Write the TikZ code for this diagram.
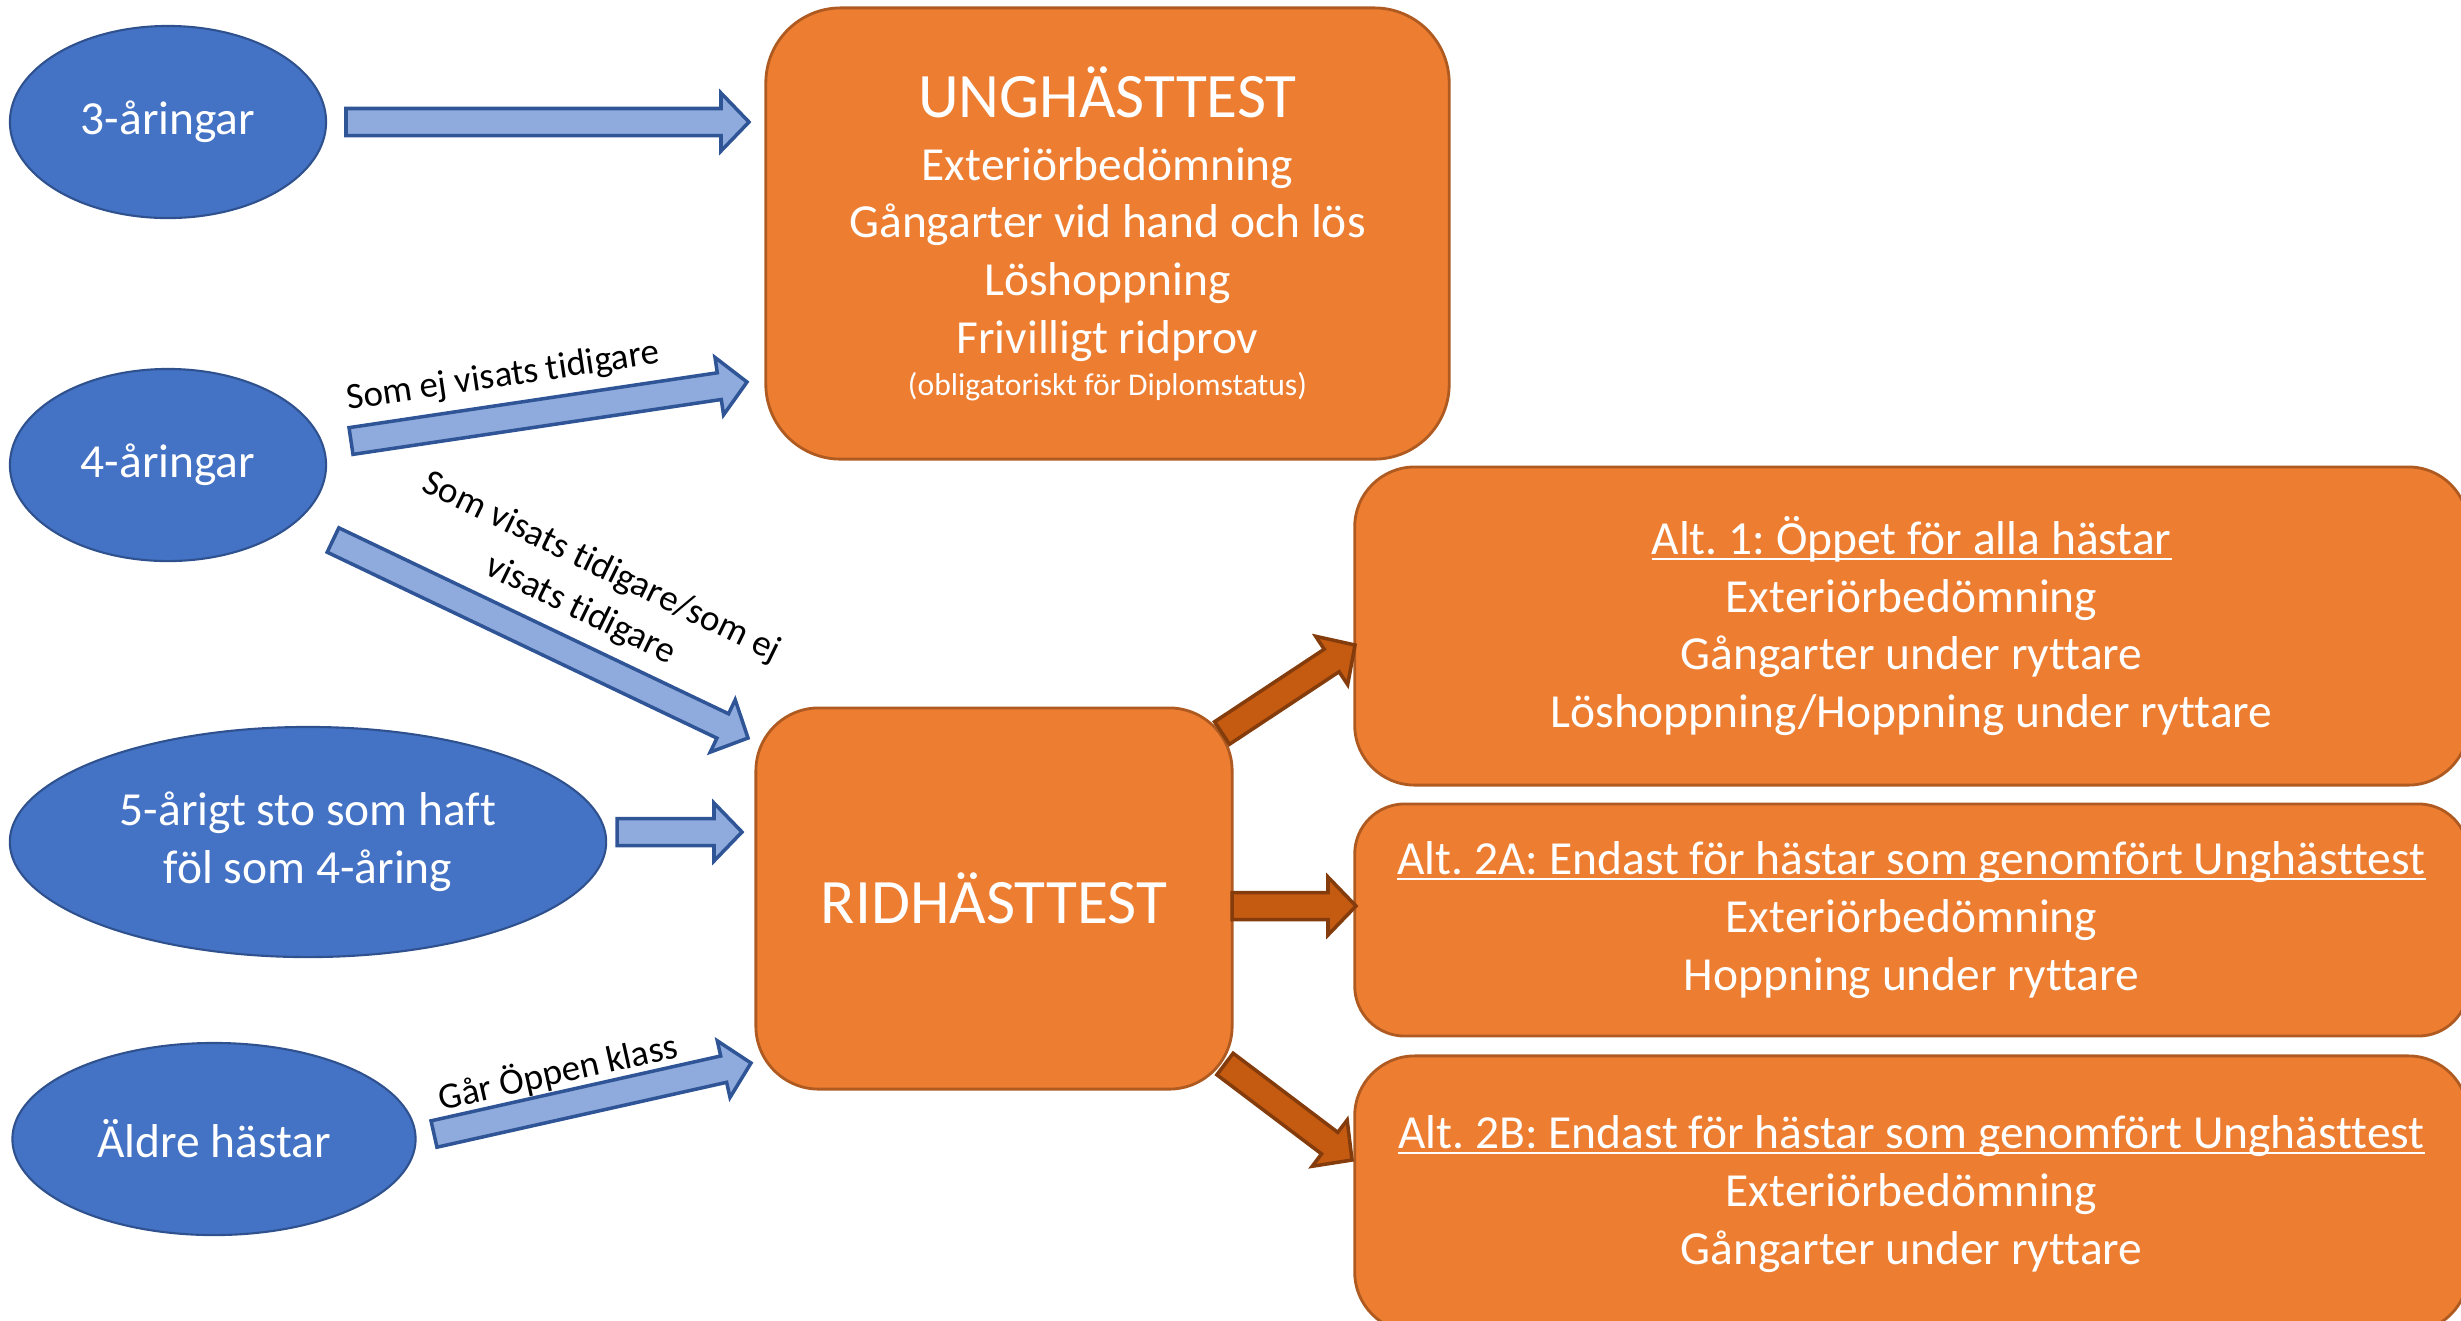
\documentclass[tikz,border=0pt]{standalone}
\usepackage{fontspec}
\setmainfont{Carlito}[Ligatures={NoCommon}]
\frenchspacing
\usetikzlibrary{shapes.geometric,calc,positioning}

\definecolor{ovalblue}{HTML}{4472C4}
\definecolor{ovalline}{HTML}{2F528F}
\definecolor{boxorange}{HTML}{ED7D31}
\definecolor{boxline}{HTML}{AE5A21}
\definecolor{arrowblue}{HTML}{8FAADC}
\definecolor{arrowblueline}{HTML}{2F5597}
\definecolor{arrowbrown}{HTML}{C55A11}
\definecolor{arrowbrownline}{HTML}{843C0C}

\newcommand\bodyfont{\fontsize{13.5}{16.4}\selectfont}
\newcommand\titlefont{\fontsize{18}{21}\selectfont}
\newcommand\smallfont{\fontsize{9}{11}\selectfont}
\newcommand\notefont{\fontsize{10.5}{13.5}\selectfont}

% underline close to the baseline
\newsavebox\ulbox
\newcommand\ulined[1]{\sbox\ulbox{#1}\rlap{\rule[-1.6pt]{\wd\ulbox}{.7pt}}\usebox\ulbox}

% block arrow from tail #2 to tip #3
\newcommand\blockarrow[3]{%
  \coordinate (hb) at ($(#3)!.28cm!(#2)$);
  \draw [#1] ($(#2)!.135cm!90:(#3)$) -- ($(hb)!.135cm!90:(#3)$)
    -- ($(hb)!.29cm!90:(#3)$) -- (#3) -- ($(hb)!.29cm!-90:(#3)$)
    -- ($(hb)!.135cm!-90:(#3)$) -- ($(#2)!.135cm!-90:(#3)$) -- cycle;
}

\begin{document}
\begin{tikzpicture}
    [ x = .01cm, y = -.01cm
    , oval/.style =
      { ellipse, draw=ovalline, fill=ovalblue, line width=.6pt,
        text=white, align=center, inner sep=0pt, font=\bodyfont }
    , testbox/.style =
      { rectangle, draw=boxline, fill=boxorange, line width=.8pt,
        text=white, align=center, font=\bodyfont }
    , bluearrow/.style =
      { draw=arrowblueline, fill=arrowblue, line width=1pt }
    , brownarrow/.style =
      { draw=arrowbrownline, fill=arrowbrown, line width=1pt }
    , note/.style =
      { font=\notefont, align=center, inner sep=0pt }
    ]
    \useasboundingbox (0,0) rectangle (2461,1320);

    \node [oval, minimum width=3.16cm, minimum height=1.92cm] (tre) at (168,122) {3-åringar};
    \node [oval, minimum width=3.16cm, minimum height=1.92cm] (fyra) at (168,465) {4-åringar};
    \node [oval, minimum width=5.96cm, minimum height=2.30cm] (fem) at (308,842) {5-årigt sto som haft\\föl som 4-åring};
    \node [oval, minimum width=4.03cm, minimum height=1.92cm] (aldre) at (214,1139) {Äldre hästar};

    \node [testbox, minimum width=6.83cm, minimum height=4.51cm, rounded corners=.75cm] (ung) at (1107.5,233.5)
      {{\titlefont UNGHÄSTTEST}\\[1.5pt]
       Exteriörbedömning\\
       Gångarter vid hand och lös\\
       Löshoppning\\
       Frivilligt ridprov\\[-4.4pt]
       {\smallfont (obligatoriskt för Diplomstatus)}};
    \node [testbox, minimum width=4.76cm, minimum height=3.81cm, rounded corners=.63cm] (rid) at (994,898.5)
      {\titlefont RIDHÄSTTEST};

    \node [testbox, minimum width=11.13cm, minimum height=3.18cm, rounded corners=.6cm] (alt1) at (1911.5,626)
      {\ulined{Alt. 1: Öppet för alla hästar}\\
       Exteriörbedömning\\
       Gångarter under ryttare\\
       Löshoppning/Hoppning under ryttare};
    \node [testbox, minimum width=11.13cm, minimum height=2.32cm, rounded corners=.5cm] (alt2a) [below=.16cm of alt1]
      {\ulined{Alt. 2A: Endast för hästar som genomfört Unghästtest}\\
       Exteriörbedömning\\
       Hoppning under ryttare};
    \node [testbox, minimum width=11.13cm, minimum height=2.76cm, rounded corners=.6cm] (alt2b) [below=.17cm of alt2a]
      {\ulined{Alt. 2B: Endast för hästar som genomfört Unghästtest}\\
       Exteriörbedömning\\
       Gångarter under ryttare};

    % arrow ends
    \coordinate (tre-s) at (346,122);   \coordinate (tre-e) at (749,122);
    \coordinate (fyra-s) at (351,441);  \coordinate (fyra-e) at (747,382);
    \coordinate (fyrb-s) at (333,540);  \coordinate (fyrb-e) at (748,738);
    \coordinate (fem-s) at (617,832);   \coordinate (fem-e) at (742,832);
    \coordinate (aldre-s) at (434,1134); \coordinate (aldre-e) at (751,1063);
    \coordinate (alt1-s) at (1222,733); \coordinate (alt1-e) at (1355,645);
    \coordinate (alt2a-s) at (1232,906); \coordinate (alt2a-e) at (1356,906);
    \coordinate (alt2b-s) at (1225,1064); \coordinate (alt2b-e) at (1352,1160);

    \blockarrow{bluearrow}{tre-s}{tre-e}
    \blockarrow{bluearrow}{fyra-s}{fyra-e}
    \blockarrow{bluearrow}{fyrb-s}{fyrb-e}
    \blockarrow{bluearrow}{fem-s}{fem-e}
    \blockarrow{bluearrow}{aldre-s}{aldre-e}
    \blockarrow{brownarrow}{alt1-s}{alt1-e}
    \blockarrow{brownarrow}{alt2a-s}{alt2a-e}
    \blockarrow{brownarrow}{alt2b-s}{alt2b-e}

    \node [note, rotate=8.5] (n1) at (503,377) {Som ej visats tidigare};
    \node [note, rotate=-26] (n2) at (591,589) {Som visats tidigare/som ej\\visats tidigare};
    \node [note, rotate=12.6] (n3) at (558,1072) {Går Öppen klass};
\end{tikzpicture}
\end{document}
